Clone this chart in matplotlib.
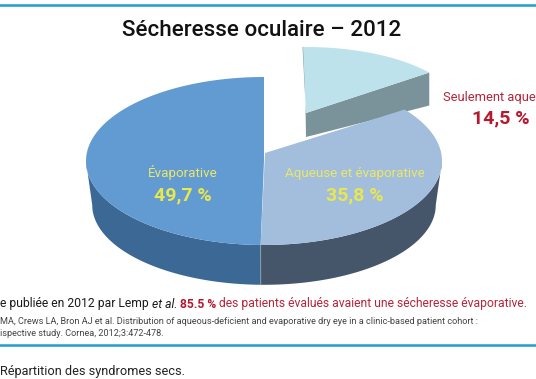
import numpy as np
import matplotlib
matplotlib.use('Agg')
import matplotlib.pyplot as plt

plt.rcParams['font.family'] = ['Roboto', 'DejaVu Sans']

names = ['Évaporative', 'Aqueuse et évaporative', 'Seulement aque']
values = [49.7, 35.8, 14.5]
value_labels = ['49,7 %', '35,8 %', '14,5 %']
top_colors = ['#629ad2', '#a3bddd', '#bee2eb']
side_colors = ['#3b6895', '#46566a', '#7a939a']

W, H = 536, 379
RX, RY = 178, 84     # pie radii in pixels
CX, CY = 264, 161    # pie centre in pixels
DEPTH = 44 / RY

fig = plt.figure(figsize=(W / 100, H / 100), dpi=100)
ax = fig.add_axes([0, 0, 1, 1])
ax.set_xlim(-CX / RX, (W - CX) / RX)
ax.set_ylim((CY - H) / RY, CY / RY)
ax.axis('off')


def px(x, y):
    return x / W, 1 - y / H


def arc(t1, t2):
    t = np.radians(np.linspace(t1, t2, 100))
    return np.cos(t), np.sin(t)


def face(t1, t2, color, apex=(0, 0), centre=(0, 0), rx=1.0, ry=1.0, z=5):
    c, s = arc(t1, t2)
    ax.fill(np.r_[apex[0], centre[0] + rx * c], np.r_[apex[1], centre[1] + ry * s],
            color=color, lw=0, zorder=z)


def wall(t1, t2, color):
    # the lower rim is a little narrower, the picture has some perspective
    c, s = arc(t1, t2)
    ax.fill(np.r_[c, 0.965 * c[::-1]], np.r_[s, 0.95 * s[::-1] - DEPTH],
            color=color, lw=0, zorder=3)


# angles, counter clockwise from the top
angles = 90 + np.cumsum([0] + values) * 3.6
a_evap, a_aq, a_lone, a_end = angles
a_tip = a_lone - 360

# exploded slice, drawn first because the big one hides part of it
ex, ey = (306 - CX) / RX, (CY - 113) / RY
erx, ery = 156 / RX, 66 / RY
c, s = np.cos(np.radians(a_tip)), np.sin(np.radians(a_tip))
ax.fill([ex, ex + erx * c, ex + erx * c, ex],
        [ey, ey + ery * s, ey + ery * s - 33 / RY, ey - 24 / RY],
        color=side_colors[2], lw=0, zorder=1)
ax.fill([ex, ex - 3.5 / RX, ex - 1.5 / RX, ex], [ey, ey + ery, ey + ery, ey - 24 / RY],
        color='#7f959c', lw=0, zorder=1)
face(a_tip, 91.1, top_colors[2], apex=(ex, ey), centre=(ex, ey), rx=erx, ry=ery, z=2)

# walls of the main pie
wall(180, a_aq, side_colors[0])
wall(a_aq, 360, side_colors[1])
c, s = np.cos(np.radians(a_aq)), np.sin(np.radians(a_aq))
ax.plot([c, 0.965 * c], [s, 0.95 * s - DEPTH], color='#8fa3b8', lw=0.6, zorder=4)

# top faces
face(a_evap, a_aq, top_colors[0])
face(a_aq - 360, a_tip, top_colors[1], apex=(1 / RX, 8 / RY))

# title and labels
fig.text(*px(262, 30), 'Sécheresse oculaire – 2012', fontsize=16.1, fontweight='medium',
         color='#111111', ha='center', va='center')
fig.text(*px(183, 173), names[0], fontsize=9.6, color='#e8e86a', ha='center', va='center')
fig.text(*px(183, 195), value_labels[0], fontsize=14, fontweight='bold', color='#e8e84e',
         ha='center', va='center')
fig.text(*px(355, 173), names[1], fontsize=9.6, color='#e8e86a', ha='center', va='center')
fig.text(*px(355, 195), value_labels[1], fontsize=14, fontweight='bold', color='#e8e84e',
         ha='center', va='center')
fig.text(*px(443, 97), names[2], fontsize=9.3, color='#b5243a', ha='left', va='center')
fig.text(*px(501, 118), value_labels[2], fontsize=14, fontweight='bold', color='#b5182f',
         ha='center', va='center')

# footer, the source image stops these lines at its left edge
note = fig.text(*px(0, 304), 'e publiée en 2012 par Lemp ', fontsize=8.75, color='#1a1a1a',
                ha='left', va='center')
fig.canvas.draw()
r = fig.canvas.get_renderer()


def after(t, s, **kw):
    x1 = t.get_window_extent(r).x1
    return fig.text(x1 / W, t.get_position()[1], s, ha='left', va='center', **kw)


n = after(note, 'et al. ', fontsize=8.75, color='#1a1a1a', style='italic')
n = after(n, '85.5 %', fontsize=8.75, color='#b5182f', fontweight='bold')
n = after(n, ' des patients évalués avaient une sécheresse évaporative.', fontsize=8.75, color='#b5243a')

fig.text(*px(0, 322), 'MA, Crews LA, Bron AJ et al. Distribution of aqueous-deficient and evaporative dry eye in a clinic-based patient cohort :',
         fontsize=6.6, color='#444444', ha='left', va='center')
fig.text(*px(0, 334), 'ispective study. Cornea, 2012;3:472-478.', fontsize=6.6, color='#444444',
         ha='left', va='center')
fig.text(*px(0, 371), 'Répartition des syndromes secs.', fontsize=9.2, color='#222222', ha='left', va='center')

# rules
for y in (5, 345):
    fig.add_artist(plt.Line2D([0, 1], [1 - y / H] * 2, color='#1f9fc9', lw=1.8))

fig.savefig('out.png', dpi=100)
